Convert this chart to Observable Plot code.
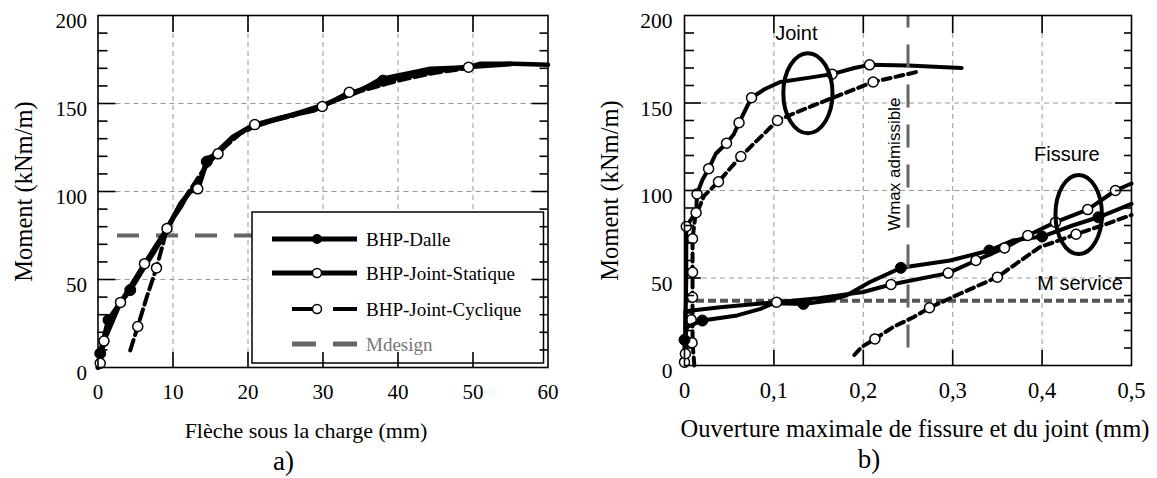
<!DOCTYPE html>
<html><head><meta charset="utf-8">
<script src="https://cdn.jsdelivr.net/npm/d3@7"></script>
<script src="https://cdn.jsdelivr.net/npm/@observablehq/plot@0.6"></script>
<style>
body{margin:0;background:#fff;}
#wrap{position:relative;width:1157px;height:478px;overflow:hidden;background:#fff;}
#wrap svg{position:absolute;top:0;}
</style></head><body><div id="wrap"></div>
<script>
// ---------- Panel a) data ----------
const aXTicks = [0, 10, 20, 30, 40, 50, 60];
const aYTicks = [0, 50, 100, 150, 200];
const aXGrid = [10, 20, 30, 40, 50];
const aYGrid = [50, 100, 150];
const yMinor = [10, 20, 30, 40, 60, 70, 80, 90, 110, 120, 130, 140, 160, 170, 180, 190];

const aDalleX = [0, 0.3, 0.8, 1.4, 3, 4.3, 6, 7.5, 9, 10, 11, 12.3, 13.5, 14.5, 16, 18, 20, 23, 27, 30, 34, 38, 42, 46, 50, 55];
const aDalleY = [0, 8, 17, 27, 37, 44, 56, 66, 77, 85, 93, 100, 104, 117, 123, 131, 136, 140, 145, 149, 156, 163, 166, 169, 171, 172.5];
const aDalleMarkX = [0.3, 1.4, 4.3, 14.5, 38];
const aDalleMarkY = [8, 27, 44, 117, 163];

const aStatX = [0, 0.3, 0.8, 3, 6.2, 9.2, 9.7, 11, 12.1, 13.3, 14.6, 16, 18.1, 19.9, 20.9, 24.3, 28.8, 29.9, 33.5, 35, 37.7, 42.1, 44.3, 49.4, 51, 55.4, 60];
const aStatY = [0, 2.4, 15, 37, 59, 79, 83, 91, 99.6, 101.5, 119, 121.4, 131, 135.6, 138, 142, 146, 148.3, 156.4, 157.4, 164, 167.8, 169.7, 170.6, 172.6, 172.6, 172];
const aStatMarkX = [0.3, 0.8, 3, 6.2, 9.2, 13.3, 16, 20.9, 29.9, 33.5, 49.4];
const aStatMarkY = [2.4, 15, 37, 59, 79, 101.5, 121.4, 138, 148.3, 156.4, 170.6];

const aCycX = [4.3, 5.3, 6.5, 7.8, 9.2, 10.5, 12, 14, 16, 19, 22, 26, 30, 35, 40, 45, 50];
const aCycY = [9.7, 23.3, 40, 56.6, 78.8, 88, 99, 112, 122, 133, 139, 143, 149, 157, 163, 167.5, 170.5];
const aCycMarkX = [5.3, 7.8];
const aCycMarkY = [23.3, 56.6];

const aMdesign = 75, aMdesignFrom = 2.6, aMdesignTo = 25;
const legendLabels = ["BHP-Dalle", "BHP-Joint-Statique", "BHP-Joint-Cyclique", "Mdesign"];
const aXLabel = "Flèche sous la charge (mm)";
const yLabel = "Moment (kNm/m)";

// ---------- Panel b) data ----------
const bXTicks = [0, 0.1, 0.2, 0.3, 0.4, 0.5];
const bXTickLabels = ["0", "0,1", "0,2", "0,3", "0,4", "0,5"];
const bYTicks = [0, 50, 100, 150, 200];
const bXGrid = [0.1, 0.2, 0.3, 0.4];
const bYGrid = [50, 100, 150];

// Fissure curves
const bDalleX = [0, 0, 0.003, 0.02, 0.059, 0.085, 0.1, 0.133, 0.16, 0.181, 0.207, 0.242, 0.297, 0.341, 0.367, 0.4, 0.434, 0.463, 0.5];
const bDalleY = [0, 14.7, 22, 25.7, 28.6, 32.4, 35.6, 35.2, 37, 40, 47.6, 55.8, 60, 65.7, 71.4, 73.7, 80, 84.7, 92.4];
const bDalleMarkX = [0, 0.02, 0.133, 0.242, 0.341, 0.4, 0.463];
const bDalleMarkY = [14.7, 25.7, 35.2, 55.8, 65.7, 73.7, 84.7];

const bFStatX = [0, 0.001, 0.001, 0.04, 0.103, 0.15, 0.2, 0.231, 0.295, 0.326, 0.358, 0.384, 0.415, 0.451, 0.482, 0.5];
const bFStatY = [1.9, 6.7, 31, 33.3, 36.2, 38.5, 42, 46.3, 52.8, 60, 67.2, 74.3, 81.9, 89.1, 100, 104];
const bFStatMarkX = [0, 0.001, 0.103, 0.231, 0.295, 0.326, 0.358, 0.384, 0.415, 0.451, 0.482];
const bFStatMarkY = [1.9, 6.7, 36.2, 46.3, 52.8, 60, 67.2, 74.3, 81.9, 89.1, 100];

const bFCycX = [0.19, 0.198, 0.213, 0.233, 0.256, 0.274, 0.308, 0.35, 0.365, 0.397, 0.438, 0.47, 0.5];
const bFCycY = [6, 10.5, 15.2, 21.9, 27.6, 33, 41, 50.5, 56, 67.5, 75, 80.5, 86];
const bFCycMarkX = [0.213, 0.274, 0.35, 0.438];
const bFCycMarkY = [15.2, 33, 50.5, 75];

// Joint curves
const bJStatX = [0.002, 0.001, 0.002, 0.002, 0.008, 0.013, 0.014, 0.02, 0.027, 0.035, 0.047, 0.055, 0.061, 0.07, 0.075, 0.09, 0.107, 0.14, 0.165, 0.19, 0.207, 0.25, 0.31];
const bJStatY = [0, 20, 50, 79.4, 84, 87.3, 98, 106, 112.4, 121, 127, 132, 138.7, 148, 153, 158, 162, 164.5, 166.5, 170, 171.8, 171.4, 170];
const bJStatMarkX = [0.002, 0.013, 0.014, 0.027, 0.047, 0.061, 0.075, 0.165, 0.207];
const bJStatMarkY = [79.4, 87.3, 98, 112.4, 127, 138.7, 153, 166.5, 171.8];

const bJCycX = [0.011, 0.009, 0.009, 0.009, 0.009, 0.009, 0.012, 0.022, 0.038, 0.05, 0.063, 0.08, 0.104, 0.13, 0.163, 0.211, 0.262];
const bJCycY = [0, 13, 26, 39, 53, 72.4, 85, 97, 105, 112, 119.4, 128, 140, 145.7, 152.4, 162, 168];
const bJCycMarkX = [0.0085, 0.0075, 0.009, 0.009, 0.009, 0.038, 0.063, 0.104, 0.211];
const bJCycMarkY = [13, 26.1, 39, 53.3, 72.4, 105, 119.4, 140, 162];

const bMservice = 37;
const bWmax = 0.25, bWmaxFrom = 10, bWmaxTo = 200;
const ellCX = [0.1386, 0.4415], ellCY = [155.3, 86], ellRX = [0.0275, 0.026], ellRY = [22.9, 22.6];
const bXLabel = "Ouverture maximale de fissure et du joint (mm)";

// ---------- helpers ----------
const rows = (xs, ys) => xs.map((x, i) => ({x, y: ys[i]}));
const serif = "'Liberation Serif', 'Times New Roman', serif";
const sans = "'Liberation Sans', Arial, sans-serif";
const gridStyle = {stroke: "#9a9a9a", strokeOpacity: 1, strokeWidth: 1, strokeDasharray: "5,4"};
const tickStyle = {stroke: "black", strokeWidth: 1.6, strokeOpacity: 1};
const serifText = {fontFamily: serif, fill: "black", lineAnchor: "middle"};

function frameTicks(fw, fh, xTicksInner, yMajor, yMinorArr, top, bottom, lMaj, lMin, rMaj, rMin) {
  return [
    Plot.tickX(xTicksInner, {x: d => d, insetBottom: fh - top, ...tickStyle}),
    Plot.tickX(xTicksInner, {x: d => d, insetTop: fh - bottom, ...tickStyle}),
    Plot.tickY(yMajor, {y: d => d, insetRight: fw - lMaj, ...tickStyle}),
    Plot.tickY(yMinorArr, {y: d => d, insetRight: fw - lMin, ...tickStyle}),
    Plot.tickY(yMajor, {y: d => d, insetLeft: fw - rMaj, ...tickStyle}),
    Plot.tickY(yMinorArr, {y: d => d, insetLeft: fw - rMin, ...tickStyle})
  ];
}

function curveMarks(lineRows, markRows, lineOpts, dotOpts) {
  return [Plot.line(lineRows, {x: "x", y: "y", stroke: "black", ...lineOpts}),
          Plot.dot(markRows, {x: "x", y: "y", stroke: "black", ...dotOpts})];
}
const filledDot = {r: 5.5, fill: "black", strokeWidth: 1};
const openDot = {r: 5, fill: "white", strokeWidth: 1.5};

// ---------- Panel a ----------
const A = {width: 560, height: 478, mL: 97.5, mR: 12.5, mT: 15, mB: 111};
const aFW = A.width - A.mL - A.mR, aFH = A.height - A.mT - A.mB;

function legendA(index, scales, values, dims) {
  const g = d3.create("svg:g").attr("font-family", serif).attr("font-size", 19).attr("text-anchor", "start");
  const right = dims.width - dims.marginRight;
  const x0 = right - 295.5, y0 = dims.marginTop + 197;
  g.append("rect").attr("x", x0).attr("y", y0).attr("width", 291.5).attr("height", 151)
    .attr("fill", "white").attr("stroke", "black").attr("stroke-width", 1.5);
  const rowY = [27, 61, 97, 132];
  legendLabels.forEach((lab, i) => {
    const cy = y0 + rowY[i];
    if (i === 0 || i === 1) {
      g.append("line").attr("x1", x0 + 20).attr("x2", x0 + 105).attr("y1", cy).attr("y2", cy)
        .attr("stroke", "black").attr("stroke-width", 5);
    } else if (i === 2) {
      g.append("line").attr("x1", x0 + 40).attr("x2", x0 + 62).attr("y1", cy).attr("y2", cy)
        .attr("stroke", "black").attr("stroke-width", 4);
      g.append("line").attr("x1", x0 + 81).attr("x2", x0 + 105).attr("y1", cy).attr("y2", cy)
        .attr("stroke", "black").attr("stroke-width", 4);
    } else {
      g.append("line").attr("x1", x0 + 40).attr("x2", x0 + 64).attr("y1", cy).attr("y2", cy)
        .attr("stroke", "#666").attr("stroke-width", 5);
      g.append("line").attr("x1", x0 + 81).attr("x2", x0 + 105).attr("y1", cy).attr("y2", cy)
        .attr("stroke", "#666").attr("stroke-width", 5);
    }
    if (i === 0) g.append("circle").attr("cx", x0 + 65).attr("cy", cy).attr("r", 5).attr("fill", "black");
    if (i === 1 || i === 2) g.append("circle").attr("cx", x0 + 65).attr("cy", cy).attr("r", 4.5)
      .attr("fill", "white").attr("stroke", "black").attr("stroke-width", 1.5);
    g.append("text").attr("x", x0 + 114).attr("y", cy).attr("dy", "0.35em").attr("text-anchor", "start")
      .attr("fill", i === 3 ? "#777" : "black").text(lab);
  });
  return g.node();
}

const plotA = Plot.plot({
  width: A.width, height: A.height,
  marginLeft: A.mL, marginRight: A.mR, marginTop: A.mT, marginBottom: A.mB,
  style: {fontFamily: serif, background: "transparent", overflow: "visible"},
  x: {domain: [0, 60], axis: null},
  y: {domain: [0, 200], axis: null},
  marks: [
    Plot.ruleX(aXGrid, {x: d => d, ...gridStyle}),
    Plot.ruleY(aYGrid, {y: d => d, ...gridStyle}),
    Plot.ruleY([aMdesign], {y: d => d, x1: aMdesignFrom, x2: aMdesignTo, stroke: "#666", strokeWidth: 4, strokeDasharray: "22,17"}),
    ...curveMarks(rows(aCycX, aCycY), rows(aCycMarkX, aCycMarkY), {strokeWidth: 4, strokeDasharray: "11,5"}, openDot),
    ...curveMarks(rows(aDalleX, aDalleY), rows(aDalleMarkX, aDalleMarkY), {strokeWidth: 5}, filledDot),
    ...curveMarks(rows(aStatX, aStatY), rows(aStatMarkX, aStatMarkY), {strokeWidth: 4.5}, openDot),
    legendA,
    Plot.frame({stroke: "black", strokeWidth: 1.6}),
    ...frameTicks(aFW, aFH, aXGrid, aYGrid, yMinor, 17, 15, 18, 10, 16, 8),
    Plot.text(aYTicks, {y: d => d, text: d => String(d), frameAnchor: "left", textAnchor: "end", dx: -11, dy: 6, fontSize: 21, ...serifText}),
    Plot.text(aXTicks, {x: d => d, text: d => String(d), frameAnchor: "bottom", textAnchor: "middle", dy: 25, fontSize: 21, ...serifText}),
    Plot.text([aXLabel], {text: d => d, frameAnchor: "bottom", textAnchor: "middle", dx: -17, dy: 63, fontSize: 22, ...serifText}),
    Plot.text(["a)"], {text: d => d, frameAnchor: "bottom", textAnchor: "middle", dx: -39.5, dy: 94, fontSize: 27, ...serifText}),
    Plot.text([yLabel], {text: d => d, frameAnchor: "left", textAnchor: "middle", dx: -73.5, dy: 0, rotate: -90, fontSize: 24.5, ...serifText})
  ]
});
plotA.style.left = "0px";

// ---------- Panel b ----------
const B = {left: 560, width: 597, height: 478, mL: 124, mR: 26, mT: 15, mB: 113};
const bFW = B.width - B.mL - B.mR, bFH = B.height - B.mT - B.mB;

function ellipseMark(index, scales) {
  const g = d3.create("svg:g");
  ellCX.forEach((cx0, i) => {
    const cx = scales.x(cx0), cy = scales.y(ellCY[i]);
    const rx = Math.abs(scales.x(cx0 + ellRX[i]) - cx), ry = Math.abs(scales.y(ellCY[i] + ellRY[i]) - cy);
    g.append("ellipse").attr("cx", cx).attr("cy", cy).attr("rx", rx).attr("ry", ry)
      .attr("fill", "none").attr("stroke", "black").attr("stroke-width", 4);
  });
  return g.node();
}

const plotB = Plot.plot({
  width: B.width, height: B.height,
  marginLeft: B.mL, marginRight: B.mR, marginTop: B.mT, marginBottom: B.mB,
  style: {fontFamily: serif, background: "transparent", overflow: "visible"},
  x: {domain: [0, 0.5], axis: null},
  y: {domain: [0, 200], axis: null},
  marks: [
    Plot.ruleX(bXGrid, {x: d => d, ...gridStyle}),
    Plot.ruleY(bYGrid, {y: d => d, ...gridStyle}),
    Plot.ruleY([bMservice], {y: d => d, stroke: "#555", strokeWidth: 4, strokeDasharray: "8,4"}),
    ...curveMarks(rows(bJCycX, bJCycY), rows(bJCycMarkX, bJCycMarkY), {strokeWidth: 4, strokeDasharray: "8,5"}, openDot),
    ...curveMarks(rows(bFCycX, bFCycY), rows(bFCycMarkX, bFCycMarkY), {strokeWidth: 4, strokeDasharray: "8,5"}, openDot),
    ...curveMarks(rows(bDalleX, bDalleY), rows(bDalleMarkX, bDalleMarkY), {strokeWidth: 4}, filledDot),
    ...curveMarks(rows(bJStatX, bJStatY), rows(bJStatMarkX, bJStatMarkY), {strokeWidth: 4}, openDot),
    ...curveMarks(rows(bFStatX, bFStatY), rows(bFStatMarkX, bFStatMarkY), {strokeWidth: 4}, openDot),
    Plot.ruleX([bWmax], {x: d => d, y1: bWmaxFrom, y2: bWmaxTo, stroke: "#666", strokeWidth: 3, strokeDasharray: "23,17"}),
    ellipseMark,
    Plot.text([{x: 0.1015, y: 189.5, t: "Joint"}], {x: "x", y: "y", text: "t", textAnchor: "start", lineAnchor: "middle", fontFamily: sans, fontSize: 20, fill: "black"}),
    Plot.text([{x: 0.391, y: 120.6, t: "Fissure"}], {x: "x", y: "y", text: "t", textAnchor: "start", lineAnchor: "middle", fontFamily: sans, fontSize: 20, fill: "black"}),
    Plot.text([{x: 0.3946, y: 46.9, t: "M service"}], {x: "x", y: "y", text: "t", textAnchor: "start", lineAnchor: "middle", fontFamily: sans, fontSize: 20, fill: "black"}),
    Plot.text([{x: 0.235, y: 115, t: "Wmax admissible"}], {x: "x", y: "y", text: "t", rotate: -90, textAnchor: "middle", lineAnchor: "middle", fontFamily: sans, fontSize: 17, fill: "black"}),
    Plot.frame({stroke: "black", strokeWidth: 1.6}),
    ...frameTicks(bFW, bFH, bXGrid, bYGrid, yMinor, 18, 15, 17, 10, 16, 7),
    Plot.text(bYTicks, {y: d => d, text: d => String(d), frameAnchor: "left", textAnchor: "end", dx: -12, dy: 6, fontSize: 21.5, ...serifText}),
    Plot.text(bXTicks, {x: d => d, text: (d, i) => bXTickLabels[i], frameAnchor: "bottom", textAnchor: "middle", dy: 25, fontSize: 22.5, ...serifText}),
    Plot.text([bXLabel], {text: d => d, frameAnchor: "bottom", textAnchor: "middle", dx: 7, dy: 64, fontSize: 24.5, ...serifText}),
    Plot.text(["b)"], {text: d => d, frameAnchor: "bottom", textAnchor: "middle", dx: -39, dy: 94, fontSize: 27, ...serifText}),
    Plot.text([yLabel], {text: d => d, frameAnchor: "left", textAnchor: "middle", dx: -74, dy: 0, rotate: -90, fontSize: 24.5, ...serifText})
  ]
});
plotB.style.left = B.left + "px";

const wrap = document.getElementById("wrap");
wrap.appendChild(plotA);
wrap.appendChild(plotB);
</script>
</body></html>
